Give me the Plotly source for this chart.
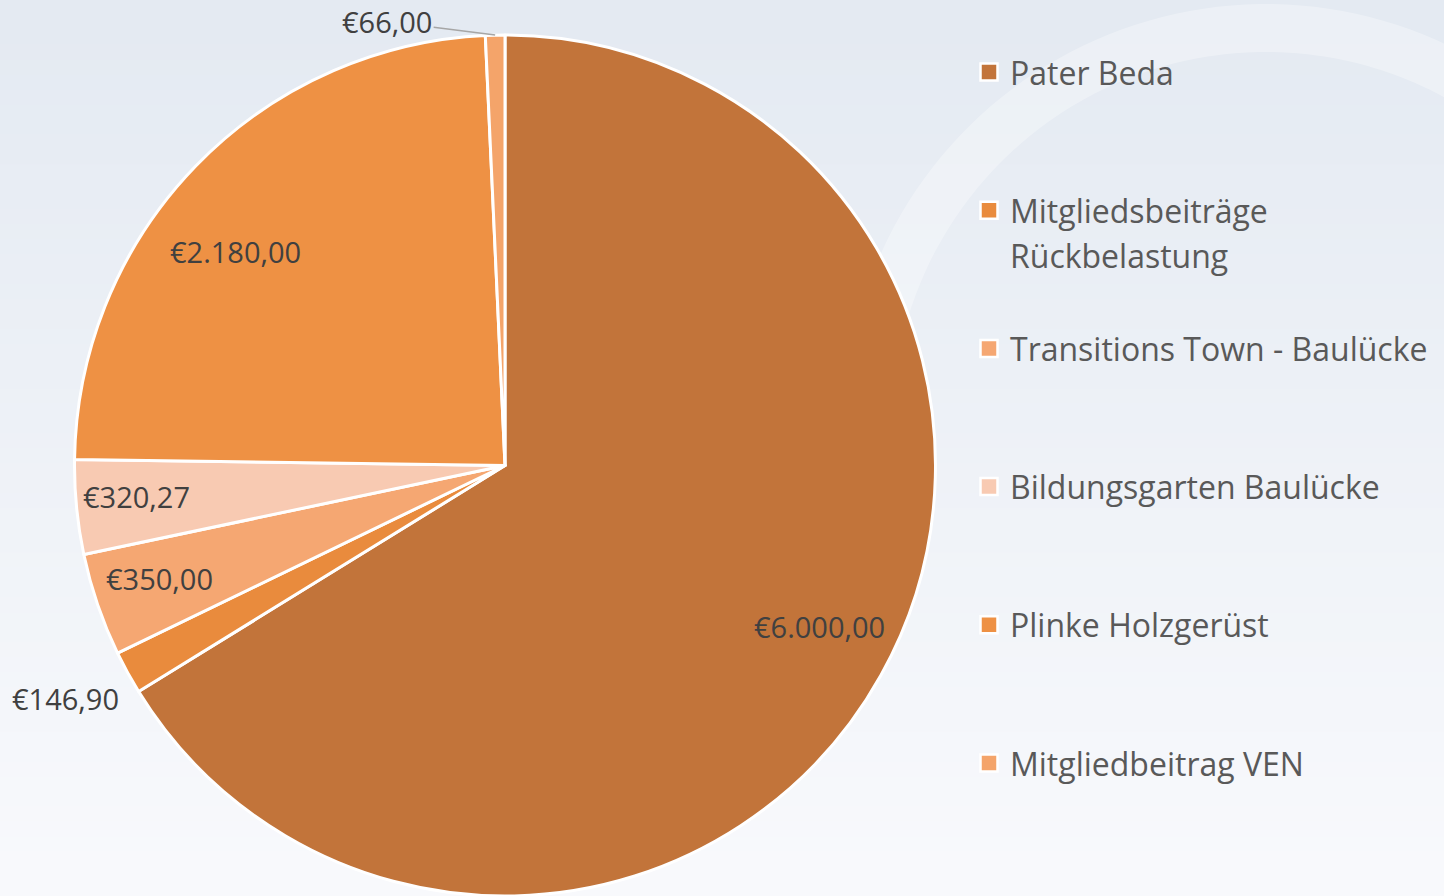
import numpy as np
import plotly.graph_objects as go

# ---------------- data ----------------
labels = ["Pater Beda", "Mitgliedsbeiträge Rückbelastung", "Transitions Town - Baulücke",
          "Bildungsgarten Baulücke", "Plinke Holzgerüst", "Mitgliedbeitrag VEN"]
values = [6000.00, 146.90, 350.00, 320.27, 2180.00, 66.00]
colors = ["#C2743A", "#E98B3D", "#F5A772", "#F8CAB2", "#EE9144", "#F4A46A"]

# label placement (angle tweak in degrees, radius as fraction of pie radius)
label_dtheta = [-2.0, 0.8, 0.8, 0.7, -5.6, 0.0]
label_rfrac = [0.82, 1.157, 0.845, 0.86, 0.80, None]  # None -> outside with leader line

# ---------------- layout constants ----------------
W, H = 1444, 896
CX, CY, R = 505.0, 465.5, 430.5
FONT = "'Open Sans', Lato, sans-serif"
TXT = "#404040"


def euro(v):
    s = f"{v:,.2f}"
    s = s.replace(",", "X").replace(".", ",").replace("X", ".")
    return "€" + s


def px2paper(x, y):
    return x / W, 1 - y / H


fig = go.Figure()

fig.add_trace(go.Pie(
    labels=labels, values=values, sort=False, direction="clockwise", rotation=0,
    marker=dict(colors=colors, line=dict(color="white", width=3)),
    textinfo="none", hoverinfo="label+value", showlegend=False,
    domain=dict(x=[(CX - R) / W, (CX + R) / W], y=[1 - (CY + R) / H, 1 - (CY - R) / H]),
))

shapes = []
annotations = []

# background gradient
top = np.array([0xE4, 0xEA, 0xF2])
bot = np.array([0xF9, 0xFA, 0xFD])
N = 60
for i in range(N):
    t = (i + 0.5) / N
    c = top + (bot - top) * t
    shapes.append(dict(type="rect", xref="paper", yref="paper", layer="below",
                       x0=0, x1=1, y0=1 - (i + 1) / N - 0.002, y1=1 - i / N,
                       fillcolor="rgb(%d,%d,%d)" % tuple(c.astype(int)), line=dict(width=0)))

# faint watermark arc
ang = np.linspace(np.radians(195), np.radians(345), 80)
wcx, wcy, wr = 1266, 426, 398
pts = [px2paper(wcx + wr * np.cos(a), wcy + wr * np.sin(a)) for a in ang]
path = "M " + " L ".join(f"{x:.4f},{y:.4f}" for x, y in pts)
shapes.append(dict(type="path", xref="paper", yref="paper", layer="below", path=path,
                   line=dict(color="rgba(255,255,255,0.3)", width=48)))

# data labels
total = sum(values)
cum = 0.0
for v, dth, rf in zip(values, label_dtheta, label_rfrac):
    mid = (cum + v / 2) / total * 360.0
    cum += v
    th = np.radians(mid + dth)
    if rf is not None:
        x, y = CX + rf * R * np.sin(th), CY - rf * R * np.cos(th)
        xp, yp = px2paper(x, y)
        annotations.append(dict(x=xp, y=yp, xref="paper", yref="paper", text=euro(v),
                                xanchor="center", yanchor="middle",
                                showarrow=False, font=dict(family=FONT, size=29, color=TXT)))
    else:
        x, y = CX + R * np.sin(th), CY - R * np.cos(th)
        xp, yp = px2paper(x, y)
        annotations.append(dict(x=xp, y=yp, xref="paper", yref="paper", text=euro(v),
                                showarrow=True, arrowhead=0, arrowwidth=1.5, arrowcolor="#A6A6A6",
                                ax=-108, ay=-14, standoff=0,
                                font=dict(family=FONT, size=29, color=TXT)))

# legend (manual, evenly spaced like the original)
LX, LY0, LDY, LINE = 989, 72, 138.2, 45
for i, (lab, col) in enumerate(zip(labels, colors)):
    yc = LY0 + i * LDY
    x0p, y0p = px2paper(LX - 8.5, yc - 8.5)
    x1p, y1p = px2paper(LX + 8.5, yc + 8.5)
    shapes.append(dict(type="rect", xref="paper", yref="paper", x0=x0p, x1=x1p, y0=y1p, y1=y0p,
                       fillcolor=col, line=dict(color="white", width=2.5)))
    lines = [lab]
    if len(lab) > 28:
        k = lab.rfind(" ")
        lines = [lab[:k], lab[k + 1:]]
    for j, ln in enumerate(lines):
        xp, yp = px2paper(1008, yc + j * LINE)
        annotations.append(dict(x=xp, y=yp, xref="paper", yref="paper", text=ln,
                                xanchor="left", yanchor="middle", showarrow=False,
                                font=dict(family=FONT, size=32, color="#595959")))

fig.update_layout(
    width=W, height=H, margin=dict(l=0, r=0, t=0, b=0),
    paper_bgcolor="#EEF2F7", plot_bgcolor="rgba(0,0,0,0)",
    shapes=shapes, annotations=annotations, showlegend=False,
)

fig.write_html("out.html", config={"displayModeBar": False},
               post_script="document.body.style.margin='0px';")
